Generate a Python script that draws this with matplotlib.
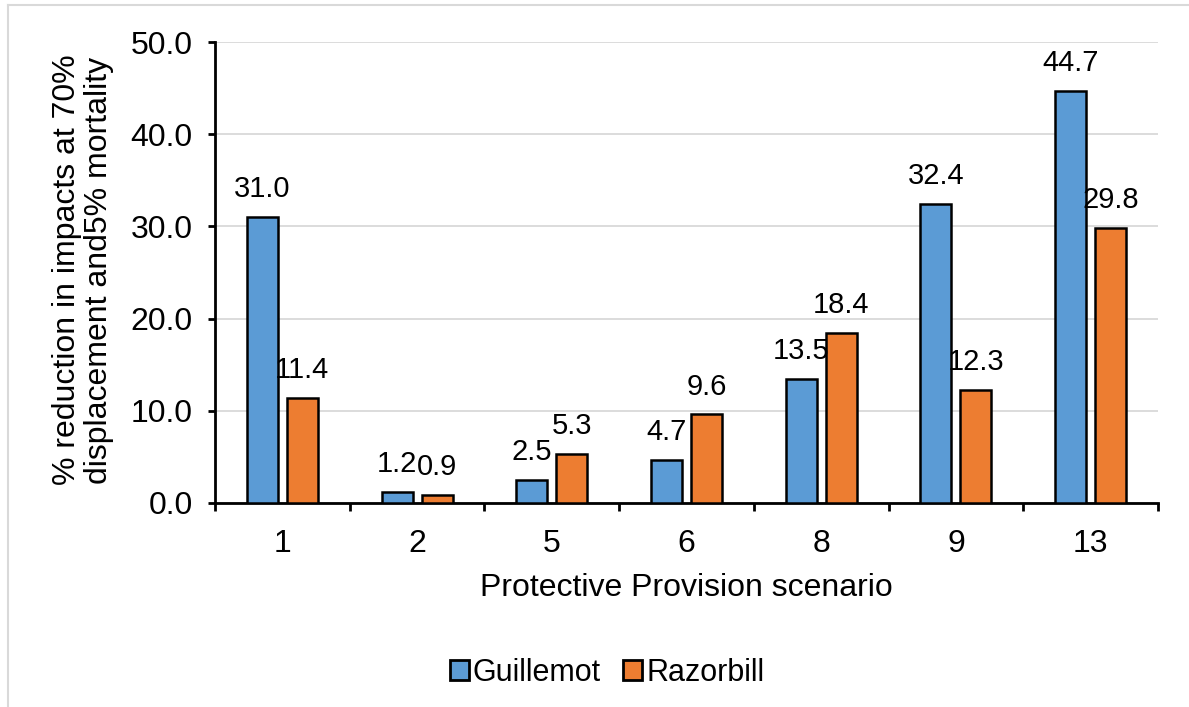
import matplotlib
matplotlib.use("Agg")
import matplotlib.pyplot as plt
import numpy as np
from matplotlib.lines import Line2D

plt.rcParams['font.family'] = ['Liberation Sans', 'DejaVu Sans']

categories = ["1", "2", "5", "6", "8", "9", "13"]
guillemot = [31.0, 1.2, 2.5, 4.7, 13.5, 32.4, 44.7]
razorbill = [11.4, 0.9, 5.3, 9.6, 18.4, 12.3, 29.8]
series_names = ["Guillemot", "Razorbill"]
colors = ["#5B9BD5", "#ED7D31"]

FS = 23
W, H = 1189, 707
fig = plt.figure(figsize=(W / 100, H / 100), dpi=100)
ax = fig.add_axes([215 / W, 1 - 503 / H, (1158 - 215) / W, (503 - 42) / H])

x = np.arange(len(categories))
bw = 0.23
off = 0.148
for vals, c, sgn in [(guillemot, colors[0], -1), (razorbill, colors[1], 1)]:
    bars = ax.bar(x + sgn * off, vals, width=bw, color=c, edgecolor="black",
                  linewidth=1.8, zorder=3)
    for b, v in zip(bars, vals):
        ax.annotate(f"{v:.1f}", (b.get_x() + b.get_width() / 2, v),
                    xytext=(0, 10), textcoords="offset points",
                    ha="center", va="bottom", fontsize=21, zorder=4)

ax.set_xlim(-0.5, len(categories) - 0.5)
ax.set_ylim(0, 50)
ax.set_yticks(np.arange(0, 51, 10))
ax.set_yticklabels([f"{v:.1f}" for v in np.arange(0, 51, 10)])
ax.set_xticks(x)
ax.set_xticklabels(categories)
ax.set_xticks(np.arange(-0.5, len(categories), 1), minor=True)
ax.tick_params(axis="x", which="major", length=0, pad=19, labelsize=FS)
ax.tick_params(axis="x", which="minor", length=6, width=2, direction="out")
ax.tick_params(axis="y", length=5, width=2, pad=11, labelsize=FS)
ax.grid(axis="y", color="#D9D9D9", linewidth=1.3, zorder=0)
ax.set_axisbelow(True)
for s in ["top", "right"]:
    ax.spines[s].set_visible(False)
ax.spines["left"].set_linewidth(2)
ax.spines["bottom"].set_linewidth(2)

ax.set_xlabel("Protective Provision scenario", fontsize=FS, labelpad=10)
fig.text(83 / W, 1 - 270 / H,
         "% reduction in impacts at 70%\ndisplacement and5% mortality",
         rotation=90, ha="center", va="center", fontsize=FS, linespacing=1.1)

handles = [plt.Rectangle((0, 0), 1, 1, facecolor=c, edgecolor="black", linewidth=2)
           for c in colors]
fig.legend(handles, series_names, loc="center", bbox_to_anchor=(607 / W, 1 - 673 / H),
           ncol=2, frameon=False, fontsize=22, handlelength=0.62, handleheight=0.62,
           handletextpad=0.12, columnspacing=0.75)

# faint frame lines (top and left)
fig.add_artist(Line2D([8 / W, 1], [1 - 5 / H, 1 - 5 / H], color="#D9D9D9", linewidth=1.5))
fig.add_artist(Line2D([8 / W, 8 / W], [0, 1 - 5 / H], color="#D9D9D9", linewidth=1.5))

fig.savefig("out.png", dpi=100)
